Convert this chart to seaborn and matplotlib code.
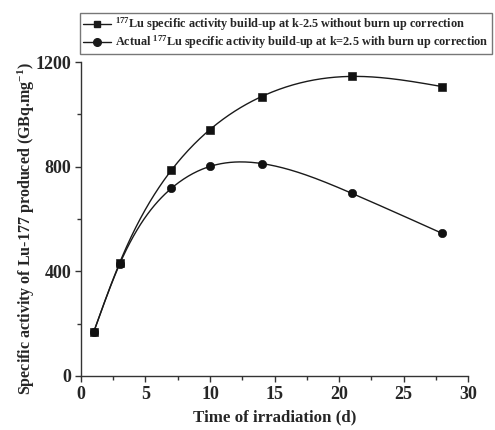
import numpy as np
import pandas as pd
import matplotlib
matplotlib.use("Agg")
import matplotlib.pyplot as plt
import seaborn as sns
from matplotlib.ticker import MultipleLocator
from matplotlib.lines import Line2D

days = [1, 3, 7, 10, 14, 21, 28]
no_correction = [170, 433, 786, 942, 1068, 1145, 1106]
with_correction = [170, 428, 717, 801, 812, 698, 545]
label_a = r"$^{177}$Lu specific activity build-up at k-2.5 without burn up correction"
label_b = r"Actual $^{177}$Lu specific activity build-up at k=2.5 with burn up correction"
x_label = "Time of irradiation (d)"
y_label = r"Specific activity of Lu-177 produced (GBq.mg$^{-1}$)"


def natural_spline(x, y, n=300):
    x = np.asarray(x, float)
    y = np.asarray(y, float)
    k = len(x)
    h = np.diff(x)
    A = np.zeros((k, k))
    b = np.zeros(k)
    A[0, 0] = A[-1, -1] = 1
    for i in range(1, k - 1):
        A[i, i - 1] = h[i - 1]
        A[i, i] = 2 * (h[i - 1] + h[i])
        A[i, i + 1] = h[i]
        b[i] = 6 * ((y[i + 1] - y[i]) / h[i] - (y[i] - y[i - 1]) / h[i - 1])
    M = np.linalg.solve(A, b)
    xs = np.linspace(x[0], x[-1], n)
    idx = np.clip(np.searchsorted(x, xs) - 1, 0, k - 2)
    x0, x1 = x[idx], x[idx + 1]
    hh = x1 - x0
    ys = (M[idx] * (x1 - xs) ** 3 / (6 * hh) + M[idx + 1] * (xs - x0) ** 3 / (6 * hh)
          + (y[idx] / hh - M[idx] * hh / 6) * (x1 - xs)
          + (y[idx + 1] / hh - M[idx + 1] * hh / 6) * (xs - x0))
    return xs, ys


sns.set_style("ticks")
plt.rcParams["font.family"] = ["Liberation Serif", "DejaVu Serif"]
plt.rcParams["font.weight"] = "bold"
plt.rcParams["mathtext.fontset"] = "custom"
plt.rcParams["mathtext.rm"] = "Liberation Serif:bold"
plt.rcParams["mathtext.it"] = "Liberation Serif:bold"
plt.rcParams["mathtext.bf"] = "Liberation Serif:bold"
plt.rcParams["mathtext.default"] = "rm"

fig = plt.figure(figsize=(4.95, 4.30), dpi=100)
ax = fig.add_axes([0.1636, 0.1256, 0.7819, 0.7302])

xa, ya = natural_spline(days, no_correction)
xb, yb = natural_spline(days, with_correction)
sns.lineplot(x=xa, y=ya, ax=ax, color="#1a1a1a", lw=1.0, sort=False)
sns.lineplot(x=xb, y=yb, ax=ax, color="#1a1a1a", lw=1.0, sort=False)
sns.scatterplot(x=days, y=no_correction, ax=ax, marker="s", s=30, color="#111111",
                edgecolor="#111111", zorder=3)
sns.scatterplot(x=days, y=with_correction, ax=ax, marker="o", s=36, color="#111111",
                edgecolor="#111111", zorder=3)

ax.set_xlim(0, 30)
ax.set_ylim(0, 1200)
ax.xaxis.set_major_locator(MultipleLocator(5))
ax.xaxis.set_minor_locator(MultipleLocator(2.5))
ax.yaxis.set_major_locator(MultipleLocator(400))
ax.yaxis.set_minor_locator(MultipleLocator(200))
for s in ["top", "right"]:
    ax.spines[s].set_visible(False)
for s in ["left", "bottom"]:
    ax.spines[s].set_linewidth(1.0)
    ax.spines[s].set_color("#333333")
ax.tick_params(which="major", direction="out", length=4.5, width=1, color="#333333",
               labelsize=13, pad=2.5)
ax.tick_params(which="minor", direction="out", length=3, width=1, color="#333333")
for lab in ax.get_xticklabels() + ax.get_yticklabels():
    lab.set_fontweight("bold")
ax.set_xlabel(x_label, fontsize=12.2, fontweight="bold", labelpad=5)
ax.set_ylabel(y_label, fontsize=11.5, fontweight="bold", labelpad=-1)
ax.yaxis.label.set_y(0.47)

handles = [
    Line2D([], [], color="#1a1a1a", lw=1, marker="s", markersize=5),
    Line2D([], [], color="#1a1a1a", lw=1, marker="o", markersize=5.5),
]
leg = fig.legend(handles, [label_a, label_b], loc="upper left",
                 bbox_to_anchor=(0.1616, 0.970), frameon=True, fancybox=False,
                 fontsize=8.85, handlelength=2.3, handletextpad=0.35,
                 borderpad=0.22, labelspacing=0.05, borderaxespad=0)
leg.get_frame().set_edgecolor("#555555")
leg.get_frame().set_linewidth(1.0)
for t in leg.get_texts():
    t.set_fontweight("bold")

fig.savefig("out.png", dpi=100)
